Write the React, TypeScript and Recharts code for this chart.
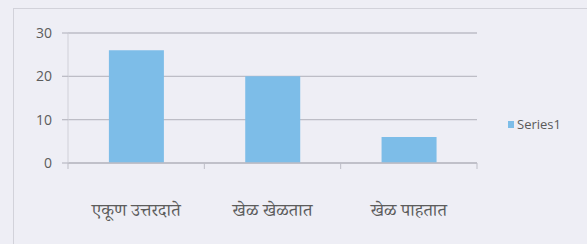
import React from 'react';
import { BarChart, Bar, XAxis, YAxis, CartesianGrid } from 'recharts';

const categories = ['एकूण उत्तरदाते', 'खेळ खेळतात', 'खेळ पाहतात'];
const series1 = [26, 20, 6];
const yTicks = [0, 10, 20, 30];
const seriesName = 'Series1';

const data = categories.map((c, i) => ({ name: c, idx: i, Series1: series1[i] }));

const BAR = '#7DBDE8';
const BG = '#EEEEF5';
const GRID = '#BDBDC6';

export default function App() {
  return (
    <div style={{ position: 'absolute', left: 0, top: 0, width: 587, height: 244, background: BG, overflow: 'hidden' }}>
      <div style={{ position: 'absolute', left: 13, top: 8, width: 600, height: 300, borderTop: '1px solid #D2D2DA', borderLeft: '1px solid #D2D2DA' }} />
      <BarChart width={587} height={244} data={data} margin={{ top: 33, right: 110, bottom: 20, left: 0 }} barCategoryGap="30%">
        <CartesianGrid vertical={false} stroke={GRID} strokeWidth={1.3} />
        <XAxis
          xAxisId="b"
          type="number"
          dataKey="idx"
          domain={[0, 3]}
          ticks={[0, 1, 2, 3]}
          allowDataOverflow
          axisLine={{ stroke: GRID, strokeWidth: 1.3 }}
          tickLine={{ stroke: GRID }}
          tickSize={6}
          tickFormatter={() => ''}
          height={1}
        />
        <XAxis
          dataKey="name"
          xAxisId="cat"
          tickLine={false}
          axisLine={false}
          tick={{ fill: '#5c5c5c', fontSize: 18, fontFamily: '"Noto Serif Devanagari", "Noto Sans", serif' }}
          tickMargin={33}
          interval={0}
          height={60}
        />
        <YAxis
          width={68}
          domain={[0, 30]}
          ticks={yTicks}
          tickLine={{ stroke: GRID, strokeWidth: 1.3 }}
          tickSize={6}
          tickMargin={10}
          axisLine={{ stroke: '#D0D0D8' }}
          tick={{ fill: '#5c5c5c', fontSize: 14, fontFamily: '"Open Sans", "Noto Sans", sans-serif' }}
        />
        <Bar dataKey="Series1" xAxisId="cat" fill={BAR} isAnimationActive={false} />
      </BarChart>
      <div style={{ position: 'absolute', left: 508, top: 115, display: 'flex', alignItems: 'center', fontFamily: '"Open Sans", "Noto Sans", sans-serif', fontSize: 13, color: '#5a5a5a' }}>
        <span style={{ display: 'inline-block', width: 6, height: 7, background: BAR, marginRight: 3 }} />
        {seriesName}
      </div>
    </div>
  );
}
